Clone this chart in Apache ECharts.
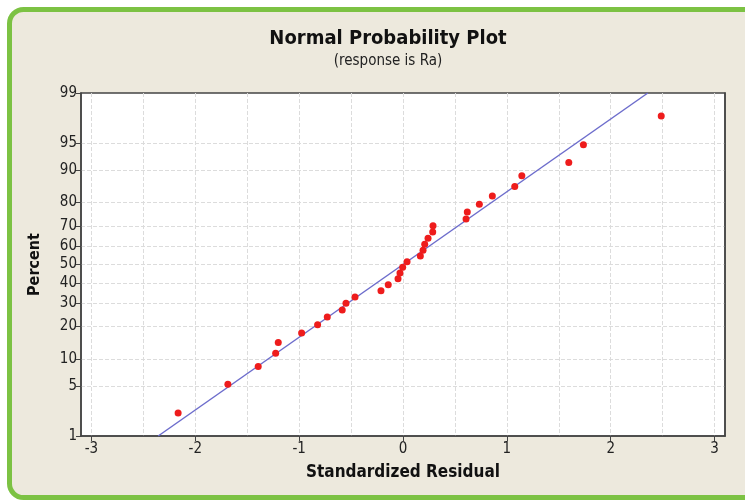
<!DOCTYPE html>
<html>
<head>
<meta charset="utf-8">
<script src="https://cdn.jsdelivr.net/npm/echarts@6/dist/echarts.min.js"></script>
<style>
  body { margin: 0; background: #fff; overflow: hidden; }
  #main { width: 745px; height: 502px; }
</style>
</head>
<body>
<div id="main"></div>
<script>
// standardized residuals and their plotting percents
const residuals = [-2.165, -1.686, -1.394, -1.226, -1.201, -0.976, -0.822, -0.729, -0.585, -0.549, -0.462,
  -0.212, -0.142, -0.048, -0.029, -0.003, 0.039, 0.167, 0.193, 0.209, 0.241, 0.286, 0.289,
  0.607, 0.619, 0.735, 0.860, 1.076, 1.144, 1.596, 1.737, 2.486]
const percents = [2.2, 5.2, 8.3, 11.4, 14.5, 17.6, 20.7, 23.8, 26.9, 29.9, 33.0, 36.1, 39.2, 42.3, 45.4, 48.5,
  51.5, 54.6, 57.7, 60.8, 63.9, 67.0, 70.1, 73.1, 76.2, 79.3, 82.4, 85.5, 88.6, 91.7, 94.8, 97.8]

// fitted reference line end points
const fitResidual = [-2.357, 2.357]
const fitPercent = [1, 99]

// tick labels
const percentTicks = [1, 5, 10, 20, 30, 40, 50, 60, 70, 80, 90, 95, 99]
const residualTicks = [-3, -2, -1, 0, 1, 2, 3]
const residualGrid = [-3, -2.5, -2, -1.5, -1, -0.5, 0, 0.5, 1, 1.5, 2, 2.5, 3]

// inverse normal cdf (Acklam), used as the probability scale
function probit(p) {
  const a = [-3.969683028665376e+01, 2.209460984245205e+02, -2.759285104469687e+02, 1.383577518672690e+02, -3.066479806614716e+01, 2.506628277459239e+00]
  const b = [-5.447609879822406e+01, 1.615858368580409e+02, -1.556989798598866e+02, 6.680131188771972e+01, -1.328068155288572e+01]
  const c = [-7.784894002430293e-03, -3.223964580411365e-01, -2.400758277161838e+00, -2.549732539343734e+00, 4.374664141464968e+00, 2.938163982698783e+00]
  const d = [7.784695709041462e-03, 3.224671290700398e-01, 2.445134137142996e+00, 3.754408661907416e+00]
  const pl = 0.02425
  let q, r
  if (p < pl) {
    q = Math.sqrt(-2 * Math.log(p))
    return (((((c[0]*q+c[1])*q+c[2])*q+c[3])*q+c[4])*q+c[5]) / ((((d[0]*q+d[1])*q+d[2])*q+d[3])*q+1)
  }
  if (p > 1 - pl) {
    q = Math.sqrt(-2 * Math.log(1 - p))
    return -(((((c[0]*q+c[1])*q+c[2])*q+c[3])*q+c[4])*q+c[5]) / ((((d[0]*q+d[1])*q+d[2])*q+d[3])*q+1)
  }
  q = p - 0.5
  r = q * q
  return (((((a[0]*r+a[1])*r+a[2])*r+a[3])*r+a[4])*r+a[5])*q / (((((b[0]*r+b[1])*r+b[2])*r+b[3])*r+b[4])*r+1)
}

const z = pct => probit(pct / 100)
const tickZ = percentTicks.map(z)
const font = "'DejaVu Sans Condensed', 'DejaVu Sans', sans-serif"

const chart = echarts.init(document.getElementById('main'), null, { renderer: 'canvas' })

chart.setOption({
  animation: false,
  backgroundColor: '#fff',
  graphic: [{
    // green rounded panel, runs off the right edge like the source
    type: 'rect', silent: true, z: -100,
    shape: { x: 9.5, y: 9.5, width: 900, height: 488, r: 14 },
    style: { fill: '#ede9dd', stroke: '#7cc243', lineWidth: 5 }
  }],
  title: {
    text: 'Normal Probability Plot',
    subtext: '(response is Ra)',
    left: 383,
    textAlign: 'center',
    top: 24,
    itemGap: 5,
    textStyle: { fontFamily: font, fontSize: 20, fontWeight: 'bold', color: '#111' },
    subtextStyle: { fontFamily: font, fontSize: 15, color: '#222' }
  },
  grid: {
    left: 81, right: 20, top: 93, bottom: 66,
    show: true, backgroundColor: '#fff', borderColor: '#444', borderWidth: 1.5
  },
  xAxis: [{
    type: 'value', min: -3.1, max: 3.1,
    name: 'Standardized Residual', nameLocation: 'middle', nameGap: 28,
    nameTextStyle: { fontFamily: font, fontSize: 17, fontWeight: 'bold', color: '#111' },
    axisLine: { onZero: false, lineStyle: { color: '#444', width: 1.5 } },
    axisTick: { customValues: residualTicks, length: 5, lineStyle: { color: '#444' } },
    axisLabel: { customValues: residualTicks, fontFamily: font, fontSize: 15, color: '#222', margin: 6 },
    splitLine: { show: false }
  }, {
    type: 'value', min: -3.1, max: 3.1, position: 'bottom',
    axisLine: { show: false }, axisLabel: { show: false },
    axisTick: { show: false, customValues: residualGrid },
    splitLine: { show: true, lineStyle: { color: '#dcdcdc', type: 'dashed', width: 1 } }
  }],
  yAxis: [{
    type: 'value', min: z(1), max: z(99),
    name: 'Percent', nameLocation: 'middle', nameGap: 38, nameRotate: 90,
    nameTextStyle: { fontFamily: font, fontSize: 16, fontWeight: 'bold', color: '#111' },
    axisLine: { onZero: false, lineStyle: { color: '#444', width: 1.5 } },
    axisTick: { customValues: tickZ, length: 5, lineStyle: { color: '#444' } },
    axisLabel: {
      customValues: tickZ, fontFamily: font, fontSize: 15, color: '#222', margin: 4,
      formatter: v => {
        let best = 0
        tickZ.forEach((t, i) => { if (Math.abs(t - v) < Math.abs(tickZ[best] - v)) best = i })
        return String(percentTicks[best])
      }
    },
    splitLine: { show: true, showMinLine: false, showMaxLine: false, lineStyle: { color: '#dcdcdc', type: 'dashed', width: 1 } }
  }, {
    // plain frame on top and right
    type: 'value', min: z(1), max: z(99), position: 'right',
    axisLine: { show: true, onZero: false, lineStyle: { color: '#444', width: 1.5 } },
    axisTick: { show: false }, axisLabel: { show: false }, splitLine: { show: false }
  }],
  series: [{
    type: 'line',
    data: fitResidual.map((r, i) => [r, z(fitPercent[i])]),
    showSymbol: false,
    lineStyle: { color: '#6d6dcc', width: 1.5 },
    z: 2
  }, {
    type: 'scatter',
    data: residuals.map((r, i) => [r, z(percents[i])]),
    symbolSize: 7,
    itemStyle: { color: '#ee1c1c', opacity: 1 },
    z: 3
  }]
})
</script>
</body>
</html>
